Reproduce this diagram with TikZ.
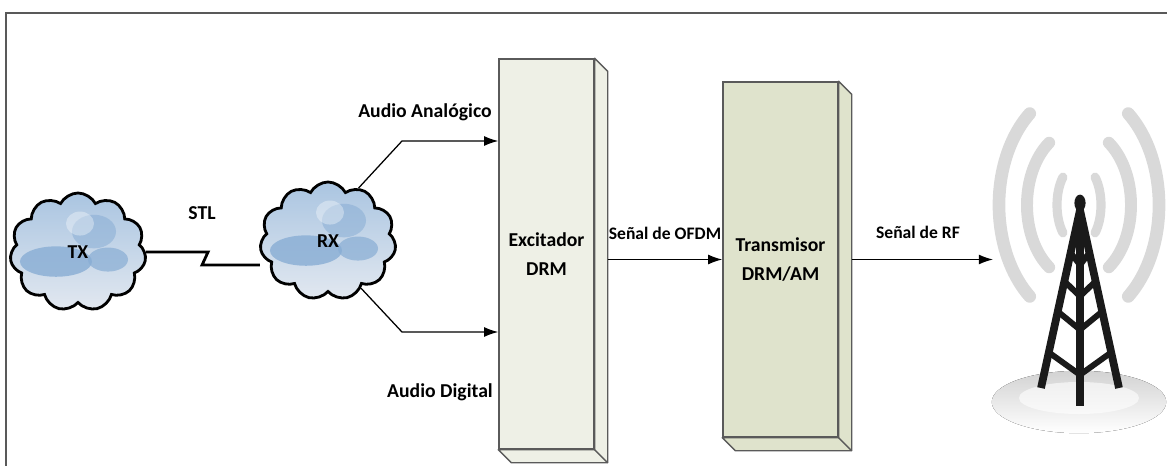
\documentclass[tikz,border=0pt]{standalone}
\usepackage{fontspec}
\setmainfont{Carlito}
\usetikzlibrary{arrows.meta,shapes.symbols,calc}

\definecolor{excfill}{RGB}{238,240,230}
\definecolor{txfill}{RGB}{223,227,204}
\definecolor{boxline}{RGB}{90,90,90}
\definecolor{cloudtop}{RGB}{170,197,225}
\definecolor{cloudbot}{RGB}{226,232,240}
\definecolor{cloudblob}{RGB}{136,173,212}
\definecolor{wavegray}{RGB}{217,217,217}
\definecolor{towerblack}{RGB}{26,26,26}

\tikzstyle{box}=[draw=boxline, line width=1pt, inner sep=0pt, align=center, font=\fontsize{14}{21}\selectfont\bfseries]
\tikzstyle{boxside}=[draw=boxline, line width=1pt, line join=round]
\tikzstyle{net}=[cloud, cloud puffs=11, cloud puff arc=125, cloud ignores aspect, draw, line width=2pt, inner sep=0pt, minimum width=3.4cm, minimum height=2.95cm, top color=cloudtop, bottom color=cloudbot, font=\fontsize{14}{17}\selectfont\bfseries,
  path picture={
    \fill[cloudblob, opacity=.8] ([shift={(-0.55cm,-0.25cm)}]path picture bounding box.center) ellipse (0.9cm and 0.38cm);
    \fill[cloudblob, opacity=.7] ([shift={(0.75cm,-0.2cm)}]path picture bounding box.center) ellipse (0.5cm and 0.3cm);
    \fill[cloudblob, opacity=.55] ([shift={(0.4cm,0.5cm)}]path picture bounding box.center) ellipse (0.55cm and 0.42cm);
    \fill[white, opacity=.35] ([shift={(0.05cm,0.7cm)}]path picture bounding box.center) ellipse (0.35cm and 0.3cm);
  }]
\tikzstyle{arrow}=[draw=black, line width=0.9pt, -{Latex[length=10pt,width=7pt]}]
\tikzstyle{stl}=[draw=black, line width=2pt]
\tikzstyle{biglabel}=[font=\fontsize{14}{17}\selectfont\bfseries]
\tikzstyle{smalllabel}=[font=\fontsize{12.5}{15}\selectfont\bfseries]
\tikzstyle{wave}=[draw=wavegray, line cap=round]
\tikzstyle{frame}=[draw=black!65, line width=1pt]

\begin{document}
\begin{tikzpicture}[x=0.025cm, y=-0.025cm]
  \useasboundingbox (0,0) rectangle (1167,466);
  \draw[frame] (6,466) -- (6,13) -- (1167,13);

  % links
  \node[net] (tx) at (78,252) {TX};
  \node[net] (rx) at (328,241) {RX};
  \node[biglabel] (stllbl) at (202,213) {STL};
  \draw[stl] (tx.east) -- ++(62,0) -- ++(-6,13) coordinate (zig) -- (zig -| rx.west);

  % exciter and transmitter
  \node[box, fill=excfill, minimum width=2.375cm, minimum height=9.75cm] (exc) at (546.5,254) {Excitador\\DRM};
  \draw[boxside, fill=excfill] (exc.north east) -- ++(13,13) |- ([shift={(13,13)}]exc.south west) -- (exc.south west) -- (exc.south east) -- cycle;
  \draw[boxside] (exc.south east) -- ++(13,13);

  \node[box, fill=txfill, minimum width=2.875cm, minimum height=8.875cm] (txm) at (780.5,259.5) {Transmisor\\DRM/AM};
  \draw[boxside, fill=txfill] (txm.north east) -- ++(13,13) |- ([shift={(13,13)}]txm.south west) -- (txm.south west) -- (txm.south east) -- cycle;
  \draw[boxside] (txm.south east) -- ++(13,13);

  \coordinate (ana) at (402,141);
  \coordinate (dig) at (402,332);
  \coordinate (excout) at ([shift={(13,0)}]exc.east);
  \coordinate (txmout) at ([shift={(13,0)}]txm.east);
  \coordinate (rf) at (993,259.5);

  \node[biglabel] (analbl) at (425,112) {Audio Analógico};
  \node[biglabel] (diglbl) at (440,392) {Audio Digital};
  \node[smalllabel] (ofdmlbl) at (665,233) {Señal de OFDM};
  \node[smalllabel] (rflbl) at (918,232) {Señal de RF};

  \draw[arrow] (rx.60) -- (ana) -- (ana -| exc.west);
  \draw[arrow] (rx.-55) -- (dig) -- (dig -| exc.west);
  \draw[arrow] (excout |- txm.west) -- (txm.west);
  \draw[arrow] (txmout |- rf) -- (rf);

  % antenna
  \fill[top color=gray!35, bottom color=white] (1079,402) ellipse (2.18cm and 0.78cm);
  \fill[white, opacity=.6] (1079,398) ellipse (1.5cm and 0.4cm);
  \begin{scope}[shift={(1079,205)}]
    \draw[wave, line width=9pt] (128:2cm and 2.9cm) arc[start angle=128, end angle=232, x radius=2cm, y radius=2.9cm];
    \draw[wave, line width=9pt] (-52:2cm and 2.9cm) arc[start angle=-52, end angle=52, x radius=2cm, y radius=2.9cm];
    \draw[wave, line width=8.5pt] (125:1.3cm and 1.9cm) arc[start angle=125, end angle=235, x radius=1.3cm, y radius=1.9cm];
    \draw[wave, line width=8.5pt] (-55:1.3cm and 1.9cm) arc[start angle=-55, end angle=55, x radius=1.3cm, y radius=1.9cm];
    \draw[wave, line width=6.5pt] (137:0.55cm and 1.02cm) arc[start angle=137, end angle=223, x radius=0.55cm, y radius=1.02cm];
    \draw[wave, line width=6.5pt] (-43:0.55cm and 1.02cm) arc[start angle=-43, end angle=43, x radius=0.55cm, y radius=1.02cm];
  \end{scope}
  \coordinate (apex) at (1080,210);
  \coordinate (lfoot) at (1041,388);
  \coordinate (rfoot) at (1119,388);
  \coordinate (mfoot) at (1080,406);
  \draw[towerblack, line width=5.5pt, line join=round] (lfoot) -- (apex) -- (rfoot);
  \draw[towerblack, line width=5.5pt] (1080,205) -- (mfoot);
  \foreach \t in {0.1,0.24,0.4,0.57,0.8}
    \draw[towerblack, line width=4.2pt] ($(apex)!\t!(lfoot)$) -- ($(apex)!\t!(mfoot)+(0,8)$) -- ($(apex)!\t!(rfoot)$);
  \fill[towerblack] (1080,203) ellipse (0.14cm and 0.21cm);
\end{tikzpicture}
\end{document}
